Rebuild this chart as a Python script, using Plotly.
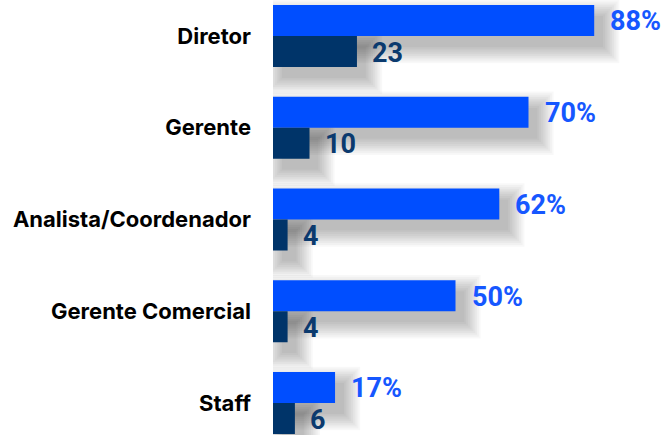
import plotly.graph_objects as go

# 資料
categories = ["Diretor", "Gerente", "Analista/Coordenador", "Gerente Comercial", "Staff"]
pct_values = [88, 70, 62, 50, 17]
count_values = [23, 10, 4, 4, 6]

BLUE = "#004EFF"
NAVY = "#003469"
BLUE_TXT = "#1657FF"
NAVY_TXT = "#0B3A6E"

PX_PER_UNIT = 3.65     # x 軸每單位像素
PX_PER_CAT = 91.75     # 每個類別的像素
BAR_W = 0.338          # 單一長條寬度 (類別單位)
W, H = 672, 435

fig = go.Figure()

# 陰影 (多層半透明模擬模糊)
dx = 9 / PX_PER_UNIT
dy = 11 / PX_PER_CAT
for k in range(10):
    ex = k * 1.8 / PX_PER_UNIT
    ey = k * 1.8 / PX_PER_CAT
    for vals, off in ((pct_values, -BAR_W), (count_values, 0)):
        fig.add_trace(go.Bar(
            y=categories, x=[v + 2 * ex for v in vals], base=dx - ex,
            orientation="h", width=BAR_W + 2 * ey, offset=off + dy - ey,
            marker=dict(color="rgba(0,0,0,0.026)", line_width=0),
            hoverinfo="skip", showlegend=False,
        ))

# 主長條
fig.add_trace(go.Bar(
    y=categories, x=pct_values, orientation="h",
    width=BAR_W, offset=-BAR_W,
    marker=dict(color=BLUE, line_width=0), name="%",
))
fig.add_trace(go.Bar(
    y=categories, x=count_values, orientation="h",
    width=BAR_W, offset=0,
    marker=dict(color=NAVY, line_width=0), name="n",
))

# 數值標籤
label_font = dict(family="Roboto, sans-serif", size=27, weight="bold")
for c, p, n in zip(categories, pct_values, count_values):
    fig.add_annotation(x=p, y=c, text=f"{p}%", showarrow=False,
                       xanchor="left", xshift=14, yshift=BAR_W * PX_PER_CAT / 2 - 1,
                       font=dict(label_font, color=BLUE_TXT))
    fig.add_annotation(x=n, y=c, text=f"{n}", showarrow=False,
                       xanchor="left", xshift=13, yshift=-BAR_W * PX_PER_CAT / 2 - 1,
                       font=dict(label_font, color=NAVY_TXT))

fig.update_layout(
    width=W, height=H,
    margin=dict(l=273, r=34, t=0, b=0),
    paper_bgcolor="white", plot_bgcolor="white",
    barmode="overlay", showlegend=False,
)
fig.update_xaxes(range=[0, 100], visible=False, fixedrange=True)
top = -36 / PX_PER_CAT
fig.update_yaxes(
    range=[top + H / PX_PER_CAT, top],
    showgrid=False, zeroline=False, showline=False, ticks="",
    ticklabelstandoff=21,
    tickfont=dict(family="Inter, Lato, sans-serif", size=22, color="#000000", weight="bold"),
)

# 去掉頁面預設邊距、隱藏工具列
fig.write_html("out.html", config={"displayModeBar": False},
               post_script="document.body.style.margin='0';")
